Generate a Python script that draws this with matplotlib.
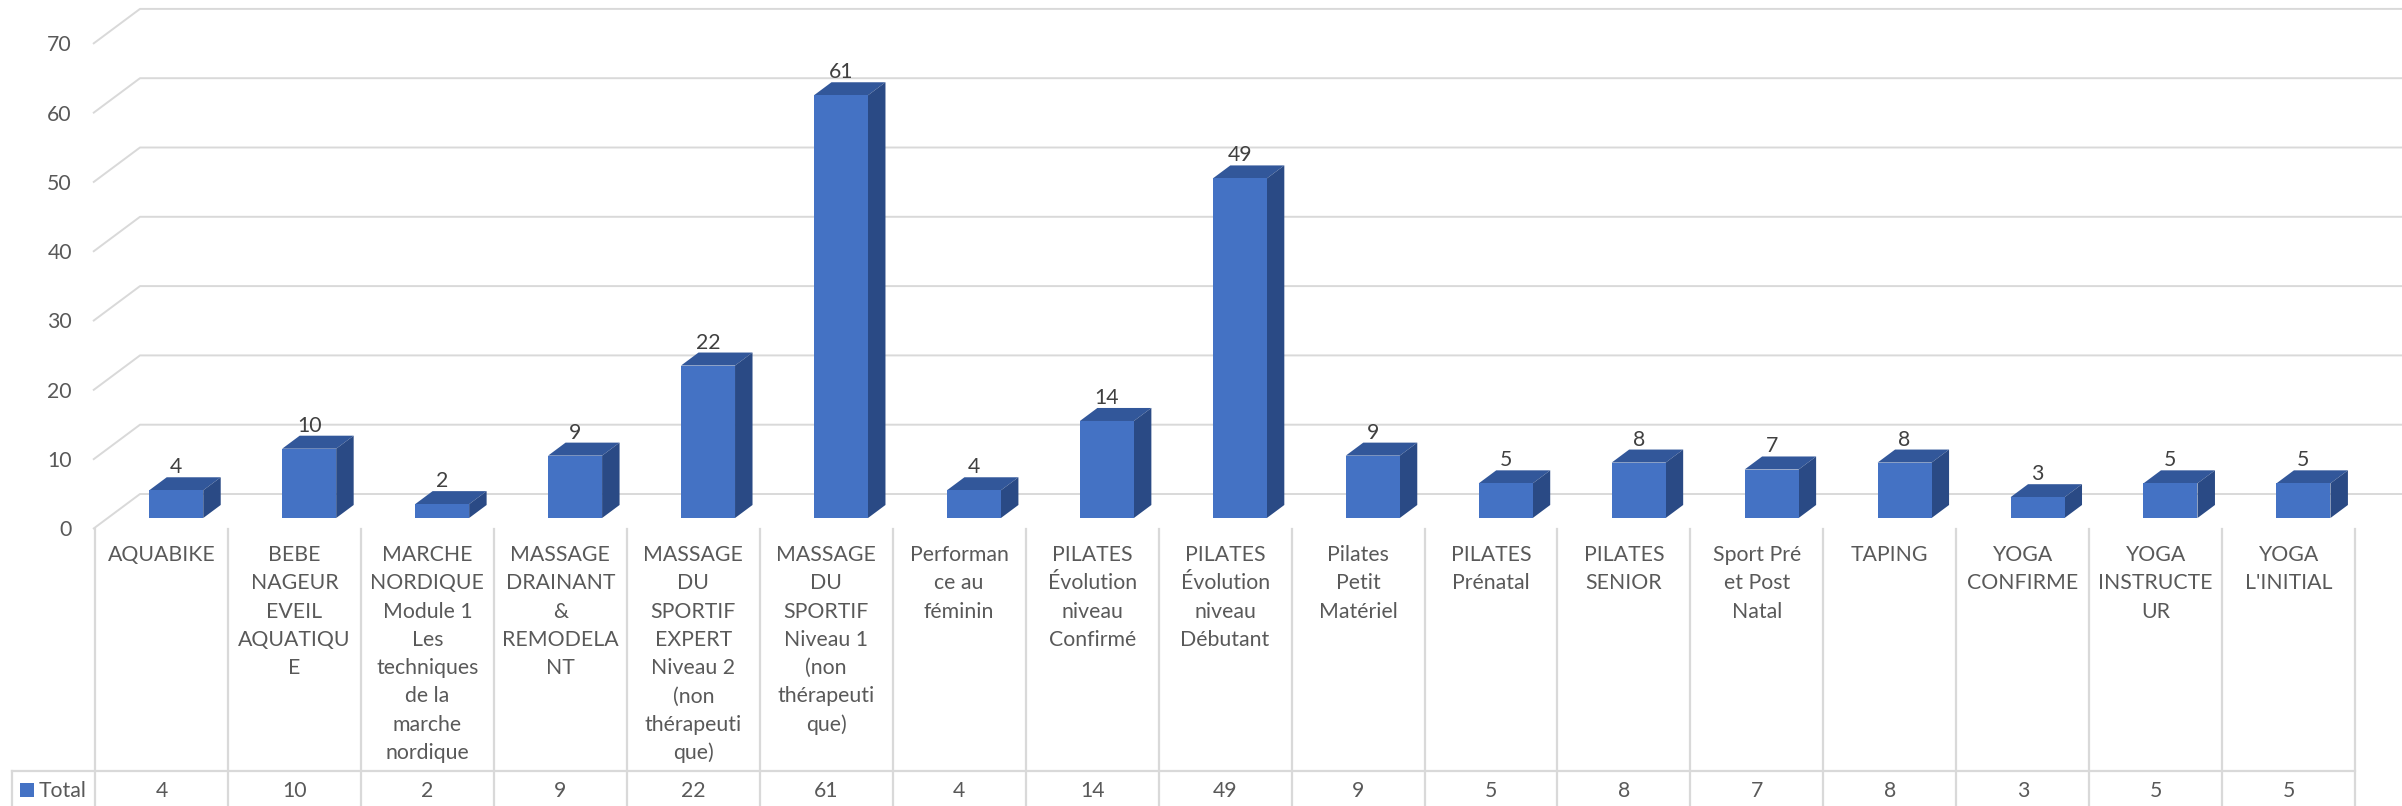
import matplotlib.pyplot as plt
from matplotlib.patches import Polygon, Rectangle

categories = [
    "AQUABIKE",
    "BEBE\nNAGEUR\nEVEIL\nAQUATIQU\nE",
    "MARCHE\nNORDIQUE\nModule 1\nLes\ntechniques\nde la\nmarche\nnordique",
    "MASSAGE\nDRAINANT\n&\nREMODELA\nNT",
    "MASSAGE\nDU\nSPORTIF\nEXPERT\nNiveau 2\n(non\nthérapeuti\nque)",
    "MASSAGE\nDU\nSPORTIF\nNiveau 1\n(non\nthérapeuti\nque)",
    "Performan\nce au\nféminin",
    "PILATES\nÉvolution\nniveau\nConfirmé",
    "PILATES\nÉvolution\nniveau\nDébutant",
    "Pilates\nPetit\nMatériel",
    "PILATES\nPrénatal",
    "PILATES\nSENIOR",
    "Sport Pré\net Post\nNatal",
    "TAPING",
    "YOGA\nCONFIRME",
    "YOGA\nINSTRUCTE\nUR",
    "YOGA\nL'INITIAL",
]
totals = [4, 10, 2, 9, 22, 61, 4, 14, 49, 9, 5, 8, 7, 8, 3, 5, 5]
y_ticks = [0, 10, 20, 30, 40, 50, 60, 70]
series_name = "Total"

# layout of the reference, in pixels
W, H = 2402, 806
X0 = 95.0          # left edge of first category column
COL = 132.95       # column width
Y0 = 529.0         # front floor line
UNIT = 6.93        # pixels per value unit
DEPTH_X, DEPTH_Y = 47.0, 35.0
F1, F2 = 0.314, 0.686   # bar depth position (fraction of floor depth)
BAR_W = 54 / COL

GRID = "#d9d9d9"
TXT = "#595959"
FONT = "Lato"
FS = 15.3
C_FRONT, C_TOP, C_SIDE = "#4472c4", "#32579a", "#2a4a85"


def X(px):
    return (px - X0) / COL


def Y(py):
    return (Y0 - py) / UNIT


DX = DEPTH_X / COL
DY = DEPTH_Y / UNIT

fig = plt.figure(figsize=(W / 100, H / 100), dpi=100)
ax = fig.add_axes([0, 0, 1, 1])
ax.set_xlim(X(0), X(W))
ax.set_ylim(Y(H), Y(0))
ax.axis("off")

# gridlines (left wall edge + back wall)
xl = X(93)
xr = len(categories) + DX
for v in y_ticks:
    ax.plot([xl, xl + DX, xr], [v, v + DY, v + DY], color=GRID, lw=1.4,
            zorder=1, solid_capstyle="butt")
    ax.text(X(72), v - 7.4 / UNIT, str(v), ha="right", va="baseline",
            fontsize=FS, color=TXT, family=FONT)

# 3d columns
for i, v in enumerate(totals):
    cx = i + 0.5 + F1 * DX
    x1, x2 = cx - BAR_W / 2, cx + BAR_W / 2
    yb, yt = F1 * DY, v + F1 * DY
    ox, oy = (F2 - F1) * DX, (F2 - F1) * DY
    ax.add_patch(Polygon([(x1, yt), (x2, yt), (x2 + ox, yt + oy), (x1 + ox, yt + oy)],
                         closed=True, fc=C_TOP, ec="none", zorder=3))
    ax.add_patch(Polygon([(x2, yb), (x2 + ox, yb + oy), (x2 + ox, yt + oy), (x2, yt)],
                         closed=True, fc=C_SIDE, ec="none", zorder=3))
    ax.add_patch(Rectangle((x1, yb), BAR_W, v, fc=C_FRONT, ec="none", zorder=4))
    ax.text(cx, yt + oy + 4 / UNIT, str(v), ha="center", va="baseline",
            fontsize=FS, color="#404040", family=FONT, zorder=5)

# data table
n = len(categories)
for k in range(n + 1):
    ax.plot([k, k], [0, Y(H)], color=GRID, lw=1.6, zorder=1)
ax.plot([X(12), X(12)], [Y(771), Y(H)], color=GRID, lw=1.6, zorder=1)
ax.plot([X(12), n], [Y(771), Y(771)], color=GRID, lw=1.6, zorder=1)

for i, lab in enumerate(categories):
    for j, line in enumerate(lab.split("\n")):
        ax.text(i + 0.5, Y(561 + j * 28.3), line, ha="center", va="baseline",
                fontsize=FS, color=TXT, family=FONT)
    ax.text(i + 0.5, Y(797), str(totals[i]), ha="center", va="baseline",
            fontsize=FS, color=TXT, family=FONT)

ax.add_patch(Rectangle((X(20), Y(797)), 14 / COL, 14 / UNIT, fc=C_FRONT, ec="none"))
ax.text(X(39), Y(797), series_name, ha="left", va="baseline",
        fontsize=FS, color=TXT, family=FONT)

fig.savefig("out.png", dpi=100)
